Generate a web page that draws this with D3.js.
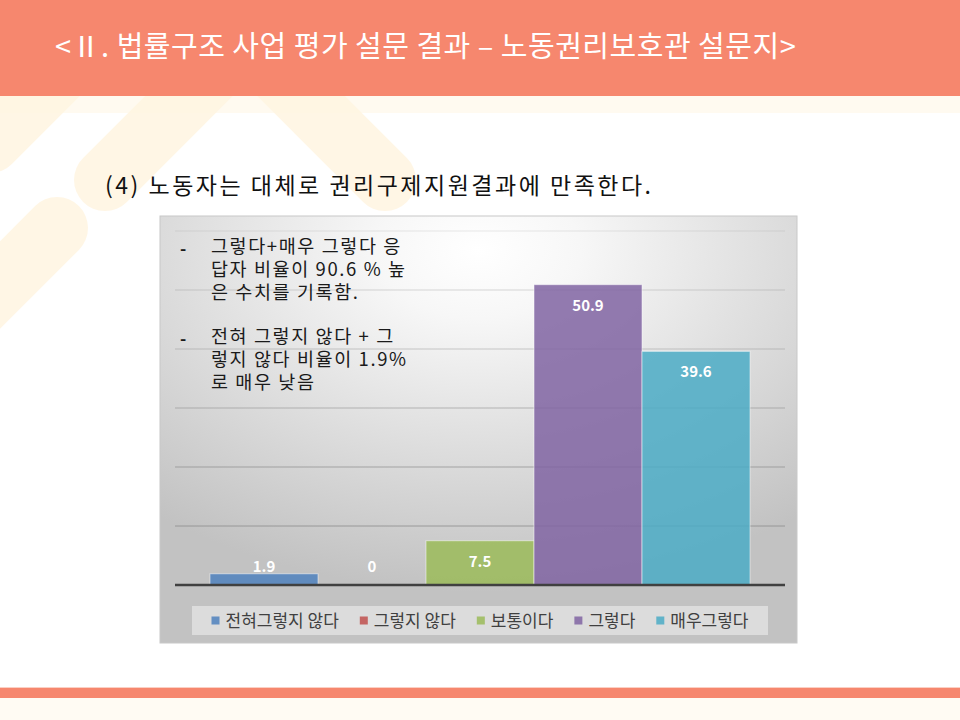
<!DOCTYPE html>
<html>
<head>
<meta charset="utf-8">
<script src="https://cdn.jsdelivr.net/npm/d3@7"></script>
<style>
  html, body { margin: 0; padding: 0; background: #ffffff; }
  svg { display: block; font-family: "Noto Sans CJK KR", "Noto Sans", sans-serif; }
</style>
</head>
<body>
<div id="slide"></div>
<script>
// values
var categories = ["전혀그렇지 않다", "그렇지 않다", "보통이다", "그렇다", "매우그렇다"];
var values = [1.9, 0, 7.5, 50.9, 39.6];
var colors = ["#4F81BD", "#C0504D", "#9BBB59", "#8064A2", "#4BACC6"];
var yTicks = [10, 20, 30, 40, 50, 60];
var title = "<Ⅱ. 법률구조 사업 평가 설문 결과 – 노동권리보호관 설문지>";
var subtitle = "(4) 노동자는 대체로 권리구제지원결과에 만족한다.";
var notes = [
  ["그렇다+매우 그렇다 응", "답자 비율이 90.6 % 높", "은 수치를 기록함."],
  ["전혀 그렇지 않다 + 그", "렇지 않다 비율이 1.9%", "로 매우 낮음"]
];

var width = 960, height = 720;

var svg = d3.select("#slide").append("svg")
    .attr("width", width)
    .attr("height", height);

var defs = svg.append("defs");
var grad = defs.append("radialGradient")
    .attr("id", "chartBg")
    .attr("cx", "50%").attr("cy", "8%").attr("r", "80%");
grad.append("stop").attr("offset", "0").attr("stop-color", "#ffffff");
grad.append("stop").attr("offset", "0.2").attr("stop-color", "#f7f7f7");
grad.append("stop").attr("offset", "1").attr("stop-color", "#c2c2c2");

// slide background
svg.append("rect").attr("width", width).attr("height", height).attr("fill", "#ffffff");
svg.append("rect").attr("x", 0).attr("y", 96).attr("width", width).attr("height", 17)
    .attr("fill", "#fffaf0");

// faint diagonal strokes behind the subtitle
var strokes = [
  {x1: -10, y1: 142, x2: 150, y2: -18},
  {x1: 105, y1: 180, x2: 260, y2: 25},
  {x1: 385, y1: 180, x2: 220, y2: 15},
  {x1: 57, y1: 228, x2: -120, y2: 405}
];
svg.append("g").attr("id", "strokes")
  .selectAll("line")
  .data(strokes)
  .enter()
  .append("line")
    .attr("x1", function(d) {return d.x1;})
    .attr("y1", function(d) {return d.y1;})
    .attr("x2", function(d) {return d.x2;})
    .attr("y2", function(d) {return d.y2;})
    .attr("stroke", "#fff4e0")
    .attr("stroke-opacity", 0.85)
    .attr("stroke-width", 62)
    .attr("stroke-linecap", "round");

// header band
svg.append("rect").attr("x", 0).attr("y", 0).attr("width", width).attr("height", 96)
    .attr("fill", "#f6876e");
svg.append("text")
    .attr("x", 55).attr("y", 57)
    .attr("fill", "#ffffff")
    .style("font-size", "29px")
    .style("letter-spacing", "0.5px")
    .text(title);

// footer band
svg.append("rect").attr("x", 0).attr("y", 687).attr("width", width).attr("height", 1)
    .attr("fill", "#fbd0c4");
svg.append("rect").attr("x", 0).attr("y", 688).attr("width", width).attr("height", 10)
    .attr("fill", "#f6876e");
svg.append("rect").attr("x", 0).attr("y", 698).attr("width", width).attr("height", 22)
    .attr("fill", "#fffbf3");

svg.append("text")
    .attr("x", 105).attr("y", 194)
    .attr("fill", "#111111")
    .style("font-size", "23px")
    .style("letter-spacing", "2.5px")
    .text(subtitle);

// chart area
var chart = {left: 160, top: 216, right: 797, bottom: 643};
svg.append("rect")
    .attr("x", chart.left).attr("y", chart.top)
    .attr("width", chart.right - chart.left)
    .attr("height", chart.bottom - chart.top)
    .attr("fill", "url(#chartBg)")
    .attr("stroke", "#c8c8c8")
    .attr("stroke-width", 1);

var plot = {left: 175, right: 785, top: 231, bottom: 585};

var x = d3.scaleBand()
    .domain(categories)
    .range([plot.left, plot.right])
    .paddingInner(0)
    .paddingOuter(0.324);

var y = d3.scaleLinear()
    .domain([0, 60])
    .range([plot.bottom, plot.top]);

var fade = d3.scaleLinear().domain([10, 60]).range([0.85, 0.2]);

var grid = svg.append("g").attr("id", "grid");
grid.selectAll("line")
    .data(yTicks)
    .enter()
    .append("line")
    .attr("x1", plot.left)
    .attr("x2", plot.right)
    .attr("y1", function(d) {return y(d);})
    .attr("y2", function(d) {return y(d);})
    .attr("stroke", "#8f8f8f")
    .attr("stroke-opacity", function(d) {return fade(d);})
    .attr("stroke-width", 1);

var rows = categories.map(function(c, i) {
  return {name: c, value: values[i], color: colors[i]};
});

var bars = svg.append("g").attr("id", "bars");
bars.selectAll("rect")
    .data(rows)
    .enter()
    .append("rect")
    .attr("x", function(d) {return x(d.name);})
    .attr("y", function(d) {return y(d.value);})
    .attr("width", x.bandwidth())
    .attr("height", function(d) {return y(0) - y(d.value);})
    .attr("fill", function(d) {return d.color;})
    .attr("fill-opacity", 0.85)
    .attr("stroke", "#ffffff")
    .attr("stroke-opacity", 0.5)
    .attr("stroke-width", 1);

// baseline
svg.append("line")
    .attr("x1", plot.left).attr("x2", plot.right)
    .attr("y1", y(0)).attr("y2", y(0))
    .attr("stroke", "#404040")
    .attr("stroke-width", 2.5);

// data labels, inside end, kept above the axis for short bars
var labels = svg.append("g").attr("id", "labels");
labels.selectAll("text")
    .data(rows)
    .enter()
    .append("text")
    .attr("x", function(d) {return x(d.name) + x.bandwidth() / 2;})
    .attr("y", function(d) {return Math.min(y(d.value) + 20.5, y(0) - 18.5);})
    .attr("dy", "0.36em")
    .attr("text-anchor", "middle")
    .attr("fill", "#ffffff")
    .style("font-size", "15px")
    .style("font-weight", "bold")
    .text(function(d) {return d.value;});

// annotation
var note = svg.append("g").attr("id", "notes");
notes.forEach(function(block, b) {
  var top = 246 + b * 90;
  note.append("text")
      .attr("x", 180).attr("y", top + 3)
      .attr("dy", "0.36em")
      .attr("fill", "#1a1a1a")
      .style("font-size", "17px")
      .style("font-weight", "bold")
      .text("-");
  block.forEach(function(line, i) {
    note.append("text")
        .attr("x", 211).attr("y", top + i * 23)
        .attr("dy", "0.36em")
        .attr("fill", "#1a1a1a")
        .style("font-size", "18.5px")
        .style("letter-spacing", "1.6px")
        .text(line);
  });
});

// legend
var legendBox = {left: 192, right: 768, top: 606, bottom: 635};
svg.append("rect")
    .attr("x", legendBox.left).attr("y", legendBox.top)
    .attr("width", legendBox.right - legendBox.left)
    .attr("height", legendBox.bottom - legendBox.top)
    .attr("fill", "#ececec")
    .attr("fill-opacity", 0.6);

var legend = svg.append("g").attr("id", "legend");
var items = legend.selectAll("g")
    .data(rows)
    .enter()
    .append("g");

items.append("rect")
    .attr("width", 8).attr("height", 8)
    .attr("y", -4)
    .attr("fill", function(d) {return d.color;})
    .attr("fill-opacity", 0.85);

items.append("text")
    .attr("x", 14)
    .attr("dy", "0.36em")
    .attr("fill", "#404040")
    .style("font-size", "17px")
    .text(function(d) {return d.name;});

var widths = [];
items.each(function() {
  widths.push(14 + d3.select(this).select("text").node().getComputedTextLength());
});
var gap = 21;
var total = d3.sum(widths) + gap * (widths.length - 1);
var cx = (legendBox.left + legendBox.right) / 2;
var pos = cx - total / 2;
var midY = (legendBox.top + legendBox.bottom) / 2;
items.attr("transform", function(d, i) {
  var t = "translate(" + pos + "," + midY + ")";
  pos += widths[i] + gap;
  return t;
});
</script>
</body>
</html>
